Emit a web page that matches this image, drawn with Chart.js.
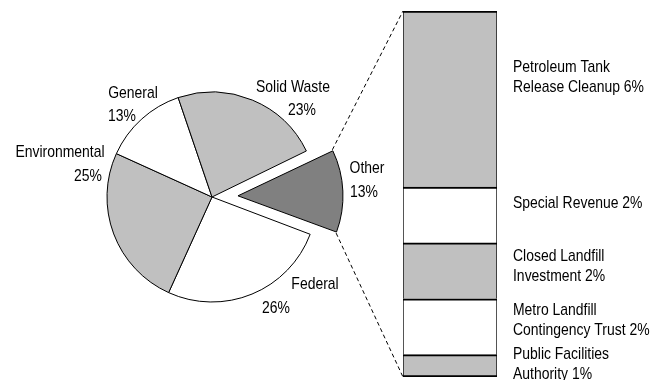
<!DOCTYPE html>
<html>
<head>
<meta charset="utf-8">
<script src="https://cdn.jsdelivr.net/npm/chart.js@4.4.0/dist/chart.umd.min.js"></script>
<style>
  html, body { margin: 0; padding: 0; background: #fff; }
  #wrap { position: relative; width: 651px; height: 380px; }
  #wrap canvas { position: absolute; left: 0; top: 0; }
</style>
</head>
<body>
<div id="wrap">
  <canvas id="pieChart" width="651" height="380"></canvas>
  <canvas id="barChart" width="651" height="380"></canvas>
</div>
<script>
// pie slices, clockwise from the exploded one
const pieLabels = ['Other', 'Federal', 'Environmental', 'General', 'Solid Waste'];
const pieValues = [13, 26, 25, 13, 23];
const pieColors = ['#808080', '#ffffff', '#c0c0c0', '#ffffff', '#c0c0c0'];

// breakdown of "Other", bottom to top
const otherLabels = ['Public Facilities Authority', 'Metro Landfill Contingency Trust', 'Closed Landfill Investment', 'Special Revenue', 'Petroleum Tank Release Cleanup'];
const otherValues = [0.8, 2.0, 2.0, 2.0, 6.3];
const otherPercents = [1, 2, 2, 2, 6];
const otherColors = ['#c0c0c0', '#ffffff', '#c0c0c0', '#ffffff', '#c0c0c0'];

// no narrow face installed, so squeeze Liberation Sans horizontally
const FONT = "17px 'Liberation Sans', Arial, sans-serif";
const NARROW = 0.82;
const PIE_RADIUS = 105;
const EXPLODE = 26;

// where each pie label line sits: [centre x, baseline y]
const pieLabelLayout = [
    [[367, 173], [364, 197]],
    [[315, 289], [276, 313]],
    [[60, 157], [88, 181]],
    [[133, 98], [122, 121]],
    [[293, 92], [302, 115]]
];
// right-hand labels: left x and first baseline of each (bottom to top)
const sideLabelX = 513;
const sideLabelY = [359, 315, 261, 208, 72];
const SIDE_LINE = 19.5;
const SIDE_WRAP = 145;

function narrowText(ctx, txt, x, y) {
    ctx.save();
    ctx.translate(x, y);
    ctx.scale(NARROW, 1);
    ctx.fillText(txt, 0, 0);
    ctx.restore();
}

function wrapText(ctx, text, maxWidth) {
    const words = text.split(' ');
    const lines = [];
    let line = '';
    words.forEach(w => {
        const test = line ? line + ' ' + w : w;
        if (line && ctx.measureText(test).width * NARROW > maxWidth) {
            lines.push(line);
            line = w;
        } else {
            line = test;
        }
    });
    if (line) lines.push(line);
    return lines;
}

const pieLabelPlugin = {
    id: 'pieLabels',
    beforeDatasetsDraw(chart) {
        // chart.js grows an offset arc a bit; keep it the same size as the rest
        const arc = chart.getDatasetMeta(0).data[0];
        const t = (arc.options.offset || 0) / 4;
        const fix = 1 - Math.sin(Math.min(Math.PI, arc.circumference));
        arc.outerRadius = PIE_RADIUS - t * fix;
    },
    afterDraw(chart) {
        const ctx = chart.ctx;
        ctx.save();
        ctx.font = FONT;
        ctx.fillStyle = '#000';
        ctx.textAlign = 'center';
        ctx.textBaseline = 'alphabetic';
        pieLabels.forEach((name, i) => {
            const lines = [name, pieValues[i] + '%'];
            lines.forEach((txt, j) => {
                const p = pieLabelLayout[i][j];
                narrowText(ctx, txt, p[0], p[1]);
            });
        });
        ctx.restore();
    }
};

const pieChart = new Chart(document.getElementById('pieChart'), {
    type: 'pie',
    data: {
        labels: pieLabels,
        datasets: [{
            data: pieValues,
            backgroundColor: pieColors,
            borderColor: '#000',
            borderWidth: 1,
            offset: pieLabels.map((_, i) => i === 0 ? EXPLODE * 4 : 0)
        }]
    },
    options: {
        responsive: false,
        animation: false,
        events: [],
        devicePixelRatio: 1,
        rotation: 64,
        radius: PIE_RADIUS,
        layout: { padding: { left: 0, right: 227, top: 14, bottom: 0 } },
        plugins: { legend: { display: false }, tooltip: { enabled: false } }
    },
    plugins: [pieLabelPlugin]
});

const total = otherValues.reduce((a, b) => a + b, 0);

const barLabelPlugin = {
    id: 'barLabels',
    afterDraw(chart) {
        const ctx = chart.ctx;
        const top = chart.getDatasetMeta(otherValues.length - 1).data[0];
        const bottom = chart.getDatasetMeta(0).data[0];
        const left = top.x - top.width / 2;

        // dashed connectors from the exploded slice to the column
        const arc = pieChart.getDatasetMeta(0).data[0];
        const half = (arc.startAngle + arc.endAngle) / 2;
        const t = (arc.options.offset || 0) / 4;
        const cx = arc.x + Math.cos(half) * t;
        const cy = arc.y + Math.sin(half) * t;
        const r = PIE_RADIUS;
        ctx.save();
        ctx.strokeStyle = '#000';
        ctx.lineWidth = 1;
        ctx.setLineDash([4, 3]);
        ctx.beginPath();
        ctx.moveTo(cx + r * Math.cos(arc.startAngle), cy + r * Math.sin(arc.startAngle));
        ctx.lineTo(left, top.y);
        ctx.moveTo(cx + r * Math.cos(arc.endAngle), cy + r * Math.sin(arc.endAngle));
        ctx.lineTo(left, bottom.base);
        ctx.stroke();
        ctx.restore();

        // labels
        ctx.save();
        ctx.font = FONT;
        ctx.fillStyle = '#000';
        ctx.textAlign = 'left';
        ctx.textBaseline = 'alphabetic';
        otherLabels.forEach((name, i) => {
            const lines = wrapText(ctx, name + ' ' + otherPercents[i] + '%', SIDE_WRAP);
            lines.forEach((txt, j) => {
                narrowText(ctx, txt, sideLabelX, sideLabelY[i] + j * SIDE_LINE);
            });
        });
        ctx.restore();
    }
};

new Chart(document.getElementById('barChart'), {
    type: 'bar',
    data: {
        labels: ['Other'],
        datasets: otherLabels.map((name, i) => ({
            label: name,
            data: [otherValues[i]],
            backgroundColor: otherColors[i],
            borderColor: '#000',
            borderWidth: { top: 2, left: 1, right: 1, bottom: i === 0 ? 2 : 0 },
            borderSkipped: false,
            barPercentage: 1,
            categoryPercentage: 1
        }))
    },
    options: {
        responsive: false,
        animation: false,
        events: [],
        devicePixelRatio: 1,
        layout: { padding: { left: 403, right: 154, top: 11, bottom: 3 } },
        plugins: { legend: { display: false }, tooltip: { enabled: false } },
        scales: {
            x: { display: false, stacked: true },
            y: { display: false, stacked: true, min: 0, max: total }
        }
    },
    plugins: [barLabelPlugin]
});
</script>
</body>
</html>
